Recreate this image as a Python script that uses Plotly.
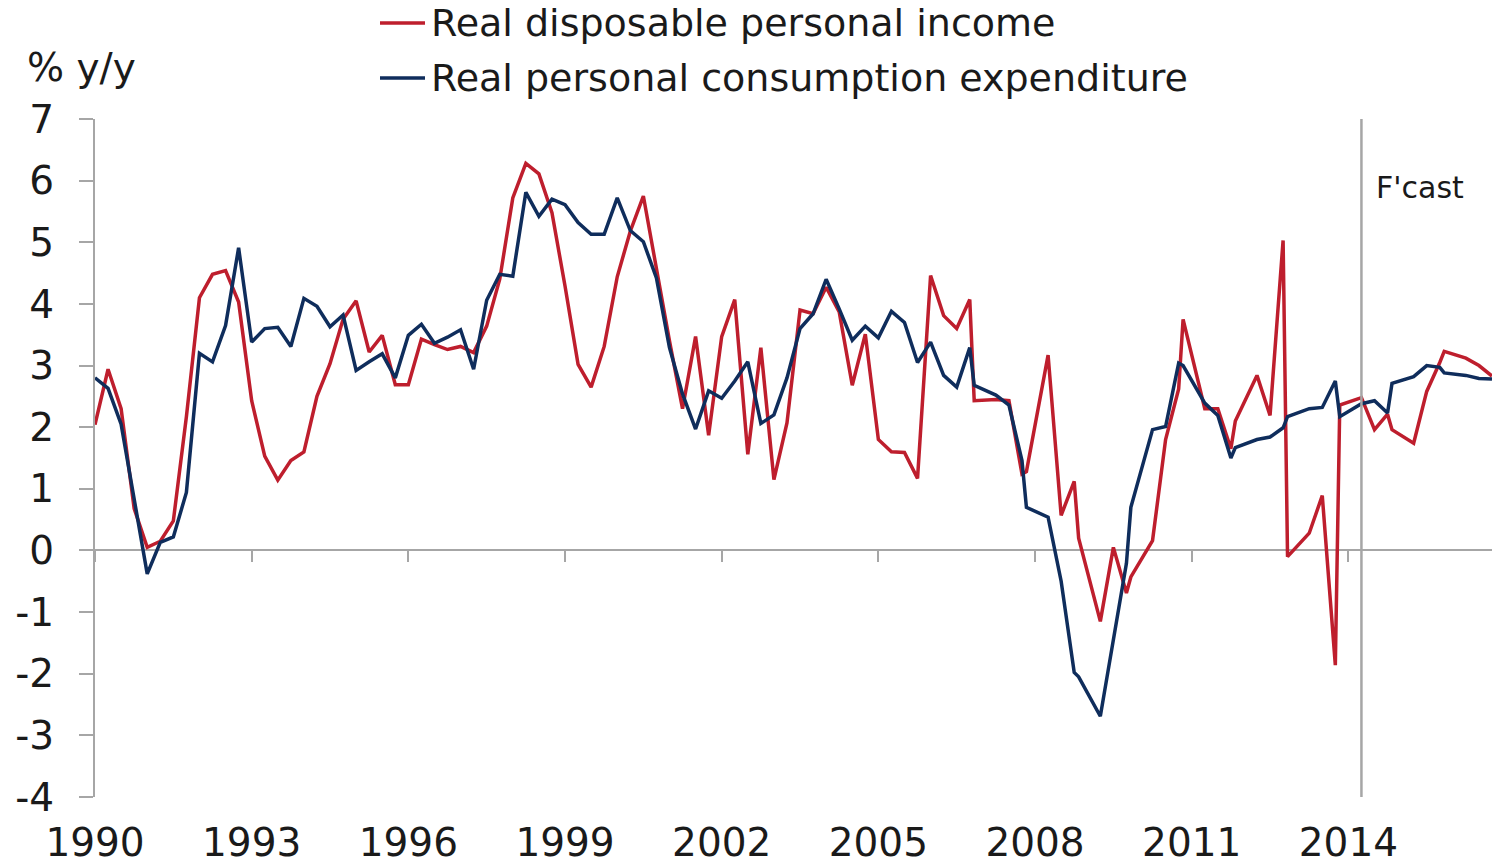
import plotly.graph_objects as go

# quarterly % y/y, 1990Q1 .. 2016Q4
income = [2.04, 2.94, 2.30, 0.68, 0.05, 0.15, 0.48, 2.17, 4.10, 4.48, 4.54, 4.03,
          2.43, 1.53, 1.14, 1.46, 1.60, 2.50, 3.03, 3.75, 4.05, 3.22, 3.49, 2.69,
          2.69, 3.43, 3.34, 3.26, 3.31, 3.21, 3.64, 4.40, 5.72, 6.28, 6.11, 5.48,
          4.29, 3.02, 2.65, 3.31, 4.44, 5.18, 5.75, 4.55, 3.40, 2.30, 3.47, 1.87,
          3.47, 4.07, 1.56, 3.29, 1.15, 2.07, 3.90, 3.84, 4.27, 3.87, 2.68, 3.51,
          1.80, 1.60, 1.59, 1.17, 4.46, 3.81, 3.60, 4.07, 2.43, 2.45, 2.43, 1.24,
          1.28, 3.17, 0.57, 1.12, 0.20, -1.15, 0.05, -0.69, -0.43, 0.16, 1.80, 2.62,
          3.75, 2.30, 2.30, 1.65, 2.10, 2.84, 2.19, 5.03, -0.10, 0.28, 0.89, -1.86,
          2.36, 2.48, 1.96, 2.21, 1.96, 1.74, 2.58, 3.05, 3.23, 3.12, 3.00, 2.83]

consumption = [2.80, 2.63, 2.05, 0.85, -0.38, 0.13, 0.22, 0.94, 3.20, 3.06, 3.65, 4.91,
               3.38, 3.60, 3.62, 3.31, 4.09, 3.96, 3.63, 3.82, 2.92, 3.06, 3.19, 2.80,
               3.49, 3.67, 3.36, 3.46, 3.58, 2.94, 4.06, 4.48, 4.45, 5.81, 5.42, 5.70,
               5.61, 5.32, 5.13, 5.13, 5.72, 5.19, 5.01, 4.42, 3.29, 2.54, 1.97, 2.59,
               2.47, 2.75, 3.06, 2.06, 2.20, 2.80, 3.60, 3.84, 4.40, 3.92, 3.41, 3.64,
               3.45, 3.88, 3.70, 3.05, 3.38, 2.84, 2.65, 3.29, 2.68, 2.52, 2.36, 1.46,
               0.70, 0.54, -0.50, -1.98, -2.05, -2.69, -1.49, -0.21, 0.70, 1.96, 2.01, 3.04,
               3.00, 2.39, 2.19, 1.50, 1.67, 1.80, 1.84, 1.99, 2.17, 2.30, 2.32, 2.75,
               2.17, 2.38, 2.43, 2.23, 2.71, 2.82, 3.00, 2.97, 2.88, 2.84, 2.79, 2.78]

series_names = ["Real disposable personal income", "Real personal consumption expenditure"]

years = list(range(1990, 2017))
tick_years = list(range(1990, 2015, 3))
y_ticks = list(range(-4, 8))
forecast_start = 2014.25

# position of each quarter on the time axis; in the source from 2007 the Q1
# observation sits about a month after the previous Q4
dates = []
for y in years:
    for q in range(4):
        if y >= 2007 and q == 0:
            dates.append(y - 0.165)
        else:
            dates.append(y + q / 4)

RED = "#BE1E2D"
NAVY = "#0F2D5C"
GREY = "#A6A6A6"
TXT = "#1A1A1A"
FONT = "DejaVu Sans, Liberation Sans, Arial, sans-serif"

# pixel helpers for things placed outside the plot area (plot: x 95..1492, y 119..797)
def px(x):
    return (x - 95) / 1397


def py(y):
    return (797 - y) / 678


fig = go.Figure()
fig.add_trace(go.Scatter(x=dates, y=income, mode="lines", name=series_names[0],
                         line=dict(color=RED, width=3.5)))
fig.add_trace(go.Scatter(x=dates, y=consumption, mode="lines", name=series_names[1],
                         line=dict(color=NAVY, width=3.5)))
# carrier for the tick marks on the zero line
fig.add_trace(go.Scatter(x=[years[0]], y=[None], xaxis="x2", showlegend=False, hoverinfo="skip"))

x_range = [1990, 2016.75]

fig.update_layout(
    width=1495, height=865,
    margin=dict(l=95, r=3, t=119, b=68),
    plot_bgcolor="white", paper_bgcolor="white",
    font=dict(family=FONT, size=39, color=TXT),
    showlegend=False,
    xaxis=dict(range=x_range, tickvals=tick_years, ticktext=[str(t) for t in tick_years],
               showgrid=False, zeroline=False, showline=False, ticks="",
               ticklabelstandoff=19, automargin=False, tickangle=0),
    xaxis2=dict(range=x_range, overlaying="x", anchor="free", position=4 / 11,
                tickvals=tick_years, ticks="outside", ticklen=11, tickwidth=2, tickcolor=GREY,
                showticklabels=False, showgrid=False, zeroline=False, showline=False),
    yaxis=dict(range=[-4, 7], tickvals=y_ticks, ticktext=[str(v) for v in y_ticks],
               showgrid=False, zeroline=True, zerolinecolor=GREY,
               zerolinewidth=2, showline=True, linecolor=GREY, linewidth=2,
               ticks="outside", ticklen=14, tickwidth=2, tickcolor=GREY,
               ticklabelstandoff=17, automargin=False),
)

fig.add_shape(type="line", x0=forecast_start, x1=forecast_start, xref="x", yref="y", y0=-4, y1=7,
              line=dict(color=GREY, width=2.5))

# legend drawn above the plot
for name, color, row_y in zip(series_names, [RED, NAVY], [23, 78]):
    fig.add_shape(type="line", xref="paper", yref="paper", x0=px(380), x1=px(425), y0=py(row_y), y1=py(row_y),
                  line=dict(color=color, width=3.5))
    fig.add_annotation(text=name, xref="paper", yref="paper", x=px(429), y=py(row_y),
                       xanchor="left", yanchor="middle", showarrow=False, font=dict(size=38, color=TXT))

fig.add_annotation(text="F'cast", xref="paper", yref="paper", x=px(1374), y=py(187),
                   xanchor="left", yanchor="middle", showarrow=False, font=dict(size=30, color=TXT))
fig.add_annotation(text="% y/y", xref="paper", yref="paper", x=px(25), y=py(67),
                   xanchor="left", yanchor="middle", showarrow=False, font=dict(size=39, color=TXT))

# drop the browser's default body margin so the figure sits at the page corner
fig.write_html("out.html", config={"displayModeBar": False},
               post_script="document.body.style.margin='0';")
